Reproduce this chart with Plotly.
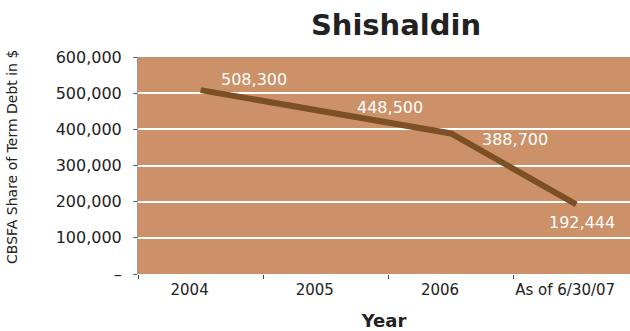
import plotly.graph_objects as go

categories = ["2004", "2005", "2006", "As of 6/30/07"]
values = [508300, 448500, 388700, 192444]
label_text = ["508,300", "448,500", "388,700", "192,444"]
label_xshift = [53, 64, 64, 6]
label_yshift = [11, 4, -6, -18]
ytick_vals = [0, 100000, 200000, 300000, 400000, 500000, 600000]
ytick_text = ["–", "100,000", "200,000", "300,000", "400,000", "500,000", "600,000"]

FONT = "DejaVu Sans"
xidx = list(range(len(categories)))

W, H = 630, 331
ML, MR, MT, MB = 138, 0, 57, 57
PW, PH = W - ML - MR, H - MT - MB

fig = go.Figure()
fig.add_trace(go.Scatter(
    x=xidx, y=values, mode="lines",
    line=dict(color="#7A5024", width=6),
    hoverinfo="skip", showlegend=False,
))

for i, v in enumerate(values):
    fig.add_annotation(
        x=xidx[i], y=v, text=label_text[i], showarrow=False,
        xshift=label_xshift[i], yshift=label_yshift[i],
        font=dict(family=FONT, size=16, color="white"),
    )

# y-axis title as annotation for exact placement
fig.add_annotation(
    xref="paper", yref="paper", x=(12 - ML) / PW, y=(H - MB - 157) / PH,
    text="CBSFA Share of Term Debt in $", textangle=-90, showarrow=False,
    xanchor="center", yanchor="middle",
    font=dict(family=FONT, size=14, color="#222222"),
)

fig.update_layout(
    width=W, height=H,
    margin=dict(l=ML, r=MR, t=MT, b=MB),
    paper_bgcolor="white",
    plot_bgcolor="#CC9169",
    font=dict(family=FONT, size=16, color="#222222"),
    title=dict(text="<b>Shishaldin</b>", x=396 / 630, xanchor="center",
               y=1 - 25 / 331, yanchor="middle",
               font=dict(family=FONT, size=29, color="#222222")),
)
fig.update_xaxes(
    range=[-0.5, 3.43],
    tickmode="array", tickvals=xidx, ticktext=categories,
    showgrid=False, zeroline=False,
    showline=False,
    ticks="",
    ticklabelshift=-11,
    ticklabelstandoff=5,
    title=dict(text="<b>Year</b>", font=dict(family=FONT, size=18), standoff=16),
    tickfont=dict(family=FONT, size=15),
)
fig.update_xaxes(minor=dict(tickmode="array", tickvals=[-0.5, 0.5, 1.5, 2.5],
                            ticks="outside", ticklen=4, tickcolor="#444", showgrid=False))
fig.update_yaxes(
    range=[0, 600000],
    tickmode="array", tickvals=ytick_vals, ticktext=ytick_text,
    showgrid=True, gridcolor="white", gridwidth=1.5,
    zeroline=False,
    showline=True, linecolor="#999999", linewidth=1,
    ticks="outside", ticklen=4, tickcolor="#666666",
    ticklabelstandoff=8,
    tickfont=dict(family=FONT, size=16),
)

fig.write_html("out.html")
